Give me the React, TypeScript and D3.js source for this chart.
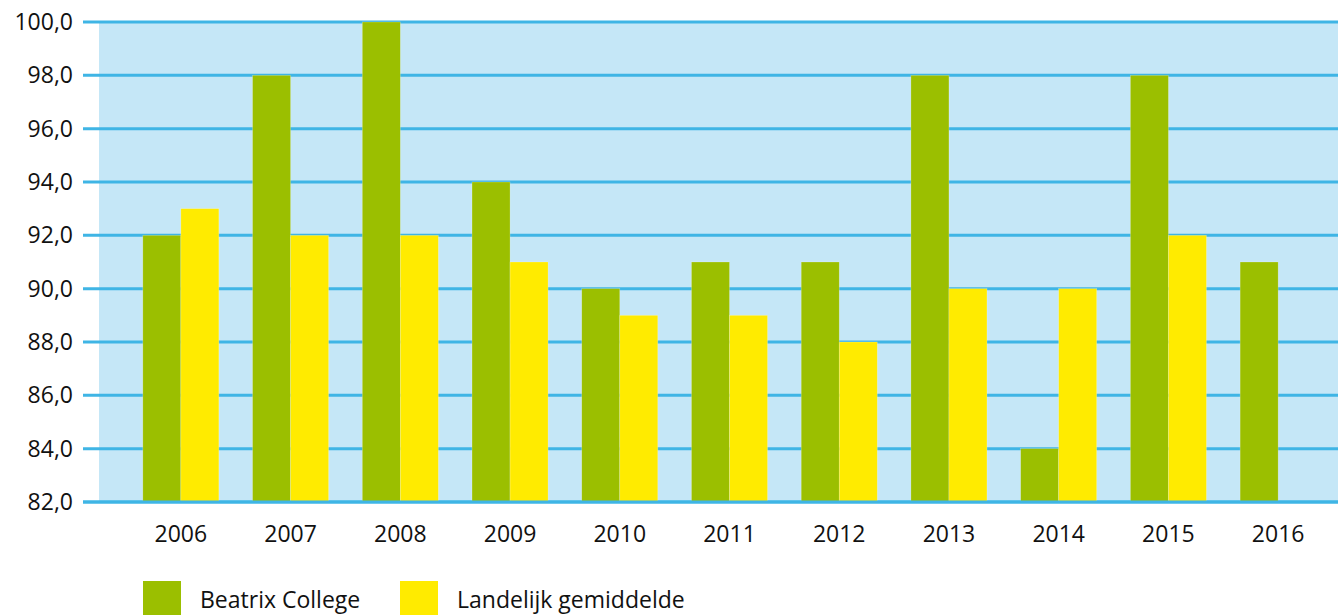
import React from 'react';
import * as d3 from 'd3';

const years = ['2006', '2007', '2008', '2009', '2010', '2011', '2012', '2013', '2014', '2015', '2016'];
const beatrix = [92, 98, 100, 94, 90, 91, 91, 98, 84, 98, 91];
const landelijk: (number | null)[] = [93, 92, 92, 91, 89, 89, 88, 90, 90, 92, null];
const yTicks = [82, 84, 86, 88, 90, 92, 94, 96, 98, 100];
const seriesNames = ['Beatrix College', 'Landelijk gemiddelde'];

const W = 1338;
const H = 615;
const GREEN = '#9bbf00';
const YELLOW = '#ffeb00';
const BG = '#c5e7f7';
const GRID = '#3fb5e5';
const FONT = "'Open Sans', 'Noto Sans', sans-serif";

const App: React.FC = () => {
    const plot = { left: 99, right: W, top: 22, bottom: 502 };

    const y = d3.scaleLinear().domain([82, 100]).range([plot.bottom, plot.top]);

    const x = d3.scaleBand<string>()
        .domain(years)
        .range([126, 1333])
        .paddingInner(0.307)
        .paddingOuter(0.1535);

    const xSub = d3.scaleBand<number>()
        .domain([0, 1])
        .range([0, x.bandwidth()]);

    const series = [beatrix, landelijk];
    const colors = [GREEN, YELLOW];

    return (
        <svg width={W} height={H} style={{ position: 'absolute', left: 0, top: 0, display: 'block' }}
            fontFamily={FONT}>
            <rect x={plot.left} y={plot.top} width={plot.right - plot.left} height={plot.bottom - plot.top} fill={BG} />

            {/* grid lines */}
            {yTicks.map(t => (
                <line key={t} x1={83} x2={W} y1={y(t)} y2={y(t)} stroke={GRID} strokeWidth={3} />
            ))}

            {/* bars */}
            {years.map((yr, i) => (
                <g key={yr} transform={`translate(${x(yr)},0)`}>
                    {series.map((s, k) => {
                        const v = s[i];
                        if (v == null) return null;
                        return (
                            <rect key={k}
                                x={xSub(k)}
                                y={y(v)}
                                width={xSub.bandwidth()}
                                height={y(82) - y(v)}
                                fill={colors[k]}
                                stroke="#ffffff"
                                strokeOpacity={0.35}
                                strokeWidth={0.6} />
                        );
                    })}
                </g>
            ))}

            {/* baseline */}
            <line x1={83} x2={W} y1={y(82)} y2={y(82)} stroke={GRID} strokeWidth={3} />

            {/* y labels */}
            {yTicks.map(t => (
                <text key={t} x={73} y={y(t) + 8} textAnchor="end" fontSize={23} fill="#111">
                    {t.toFixed(1).replace('.', ',')}
                </text>
            ))}

            {/* x labels */}
            {years.map(yr => (
                <text key={yr} x={(x(yr) ?? 0) + x.bandwidth() / 2} y={542} textAnchor="middle" fontSize={23} fill="#111">
                    {yr}
                </text>
            ))}

            {/* legend */}
            {seriesNames.map((name, k) => (
                <g key={name} transform={`translate(${143 + k * 257},581)`}>
                    <rect x={0} y={0} width={38} height={40} fill={colors[k]} />
                    <text x={57} y={27} fontSize={23} fill="#111">{name}</text>
                </g>
            ))}
        </svg>
    );
};

export default App;
